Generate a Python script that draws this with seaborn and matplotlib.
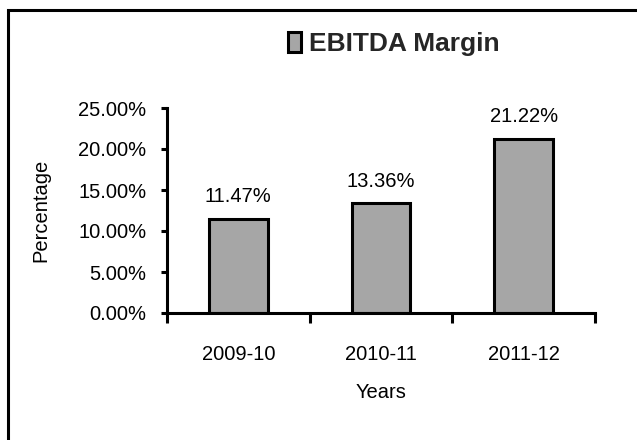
"""EBITDA margin bar chart."""

import matplotlib.pyplot as plt
import pandas as pd
import seaborn as sns
from matplotlib.patches import Rectangle
from matplotlib.ticker import FuncFormatter


years = ["2009-10", "2010-11", "2011-12"]
margin = [0.1147, 0.1336, 0.2122]
value_labels = ["11.47%", "13.36%", "21.22%"]
y_ticks = [0.0, 0.05, 0.10, 0.15, 0.20, 0.25]

FS = 14.5


def main() -> None:
    sns.set_theme(style="white")
    plt.rcParams["font.family"] = ["Liberation Sans", "DejaVu Sans"]

    df = pd.DataFrame({"Years": years, "Margin": margin})

    fig = plt.figure(figsize=(6.37, 4.40), dpi=100)
    ax = fig.add_axes([167 / 637, 1 - 313 / 440, (595 - 167) / 637, (313 - 108) / 440])

    sns.barplot(
        data=df, x="Years", y="Margin", ax=ax,
        color="#a6a6a6", edgecolor="black", linewidth=2.2, width=0.41,
        saturation=1,
    )

    ax.set_xlim(-0.5, 2.5)
    ax.set_ylim(0, 0.25)
    ax.set_yticks(y_ticks)
    ax.yaxis.set_major_formatter(FuncFormatter(lambda v, _: f"{v * 100:.2f}%"))

    ax.set_xticks([-0.5, 0.5, 1.5, 2.5], minor=True)
    ax.tick_params(axis="x", which="major", length=0, pad=23, labelsize=FS,
                   colors="black")
    ax.tick_params(axis="x", which="minor", length=7, width=2.2, direction="out",
                   bottom=True, color="black")
    ax.tick_params(axis="y", length=4, width=2.2, direction="out", left=True,
                   pad=11, labelsize=FS, colors="black")

    for side in ["top", "right"]:
        ax.spines[side].set_visible(False)
    for side in ["left", "bottom"]:
        ax.spines[side].set_linewidth(2.2)
        ax.spines[side].set_color("black")

    ax.set_xlabel("Years", fontsize=FS, labelpad=14, color="black")
    ax.set_ylabel("Percentage", fontsize=FS, labelpad=20, color="black")

    for bar, txt in zip(ax.containers[0], value_labels):
        ax.annotate(txt, (bar.get_x() + bar.get_width() / 2, bar.get_height()),
                    xytext=(0, 9), textcoords="offset points",
                    ha="center", va="bottom", fontsize=FS, color="black")

    # title-like legend above the plot
    fig.legend(
        handles=[ax.containers[0][0]], labels=["EBITDA Margin"],
        loc="center", bbox_to_anchor=(394 / 637, 1 - 44 / 440),
        frameon=False, handlelength=0.5, handleheight=0.8,
        handletextpad=0.3, borderpad=0,
        prop={"size": 19, "weight": "bold"},
    )

    # outer chart frame (right and bottom edges fall outside the image)
    fig.patches.append(Rectangle(
        (7.5 / 637, -0.1), 1.2, 1 - 10.5 / 440 + 0.1,
        transform=fig.transFigure, fill=False, edgecolor="black",
        linewidth=2.2, clip_on=False,
    ))

    fig.savefig("out.png", dpi=100)


if __name__ == "__main__":
    main()
